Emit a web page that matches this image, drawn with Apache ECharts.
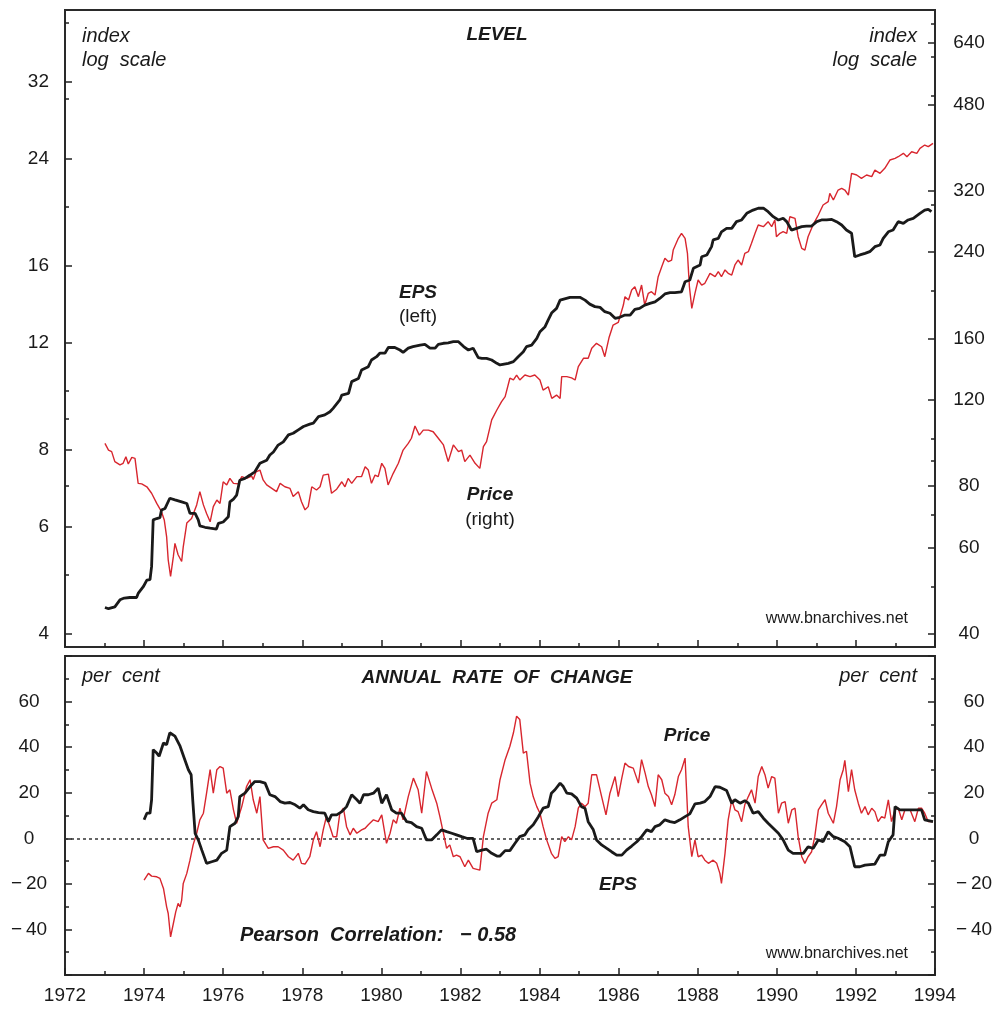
<!DOCTYPE html>
<html><head><meta charset="utf-8">
<script src="https://cdn.jsdelivr.net/npm/echarts@6/dist/echarts.min.js"></script>
<style>html,body{margin:0;padding:0;background:#fff}#c{width:997px;height:1013px}</style>
</head><body><div id="c"></div>
<script>
// ---------- LEVEL panel ----------
const epsLevelYears = [1973.01,1973.10,1973.26,1973.39,1973.50,1973.64,1973.81,1973.85,1973.98,1974.07,1974.15,1974.19,1974.23,1974.32,1974.40,1974.44,1974.53,1974.65,1974.78,1974.95,1975.08,1975.16,1975.29,1975.37,1975.41,1975.54,1975.67,1975.83,1975.88,1976.00,1976.13,1976.17,1976.26,1976.34,1976.42,1976.55,1976.68,1976.80,1976.93,1977.10,1977.18,1977.27,1977.39,1977.52,1977.65,1977.77,1977.90,1978.03,1978.19,1978.28,1978.41,1978.57,1978.70,1978.78,1978.95,1979.00,1979.17,1979.25,1979.42,1979.50,1979.67,1979.75,1979.88,1979.96,1980.09,1980.18,1980.34,1980.47,1980.55,1980.68,1980.80,1980.98,1981.10,1981.23,1981.36,1981.44,1981.57,1981.69,1981.82,1981.95,1982.08,1982.20,1982.32,1982.45,1982.54,1982.66,1982.79,1982.92,1983.00,1983.21,1983.34,1983.46,1983.59,1983.67,1983.80,1983.93,1984.01,1984.14,1984.22,1984.31,1984.43,1984.52,1984.77,1985.02,1985.15,1985.27,1985.40,1985.53,1985.65,1985.78,1985.91,1986.03,1986.16,1986.29,1986.41,1986.53,1986.66,1986.79,1986.92,1987.04,1987.17,1987.30,1987.42,1987.59,1987.68,1987.80,1987.89,1988.06,1988.10,1988.23,1988.35,1988.39,1988.52,1988.60,1988.73,1988.86,1988.98,1989.11,1989.24,1989.40,1989.53,1989.66,1989.78,1989.91,1990.04,1990.16,1990.25,1990.37,1990.50,1990.63,1990.75,1990.88,1991.01,1991.13,1991.26,1991.39,1991.51,1991.64,1991.76,1991.89,1991.97,1992.10,1992.23,1992.35,1992.48,1992.61,1992.69,1992.82,1992.94,1993.07,1993.20,1993.32,1993.45,1993.62,1993.74,1993.83,1993.91];
const epsLevelValues = [4.42,4.40,4.43,4.55,4.58,4.59,4.59,4.66,4.78,4.90,4.91,5.16,6.15,6.18,6.20,6.38,6.42,6.67,6.63,6.58,6.54,6.30,6.30,6.15,6.01,5.98,5.96,5.94,6.07,6.10,6.22,6.58,6.65,6.75,7.14,7.19,7.28,7.37,7.61,7.70,7.85,7.94,8.15,8.25,8.47,8.52,8.63,8.74,8.82,8.85,9.07,9.13,9.24,9.36,9.66,9.84,9.90,10.35,10.47,10.81,10.95,11.23,11.37,11.52,11.52,11.78,11.77,11.66,11.56,11.74,11.81,11.88,11.91,11.74,11.74,11.91,11.96,11.98,12.03,12.03,11.81,11.66,11.74,11.33,11.30,11.30,11.23,11.09,11.02,11.09,11.16,11.37,11.58,11.81,11.88,12.18,12.49,12.73,13.06,13.42,13.64,14.07,14.22,14.22,14.07,13.86,13.73,13.69,13.47,13.39,13.14,13.19,13.30,13.30,13.59,13.64,13.81,13.90,13.98,14.16,14.40,14.47,14.47,14.52,15.08,15.18,15.86,16.06,16.57,16.68,17.21,17.65,17.75,18.20,18.44,18.44,18.91,19.03,19.51,19.75,19.89,19.89,19.63,19.27,19.03,19.15,18.91,18.32,18.44,18.56,18.60,18.60,18.91,19.03,19.03,19.07,18.91,18.67,18.32,18.10,16.57,16.68,16.78,16.89,17.21,17.32,17.75,18.20,18.32,18.91,18.79,19.03,19.15,19.51,19.75,19.81,19.63];

const priceLevelYears = [1973.01,1973.10,1973.18,1973.26,1973.39,1973.47,1973.54,1973.60,1973.69,1973.77,1973.85,1973.94,1974.07,1974.19,1974.32,1974.44,1974.51,1974.57,1974.61,1974.67,1974.74,1974.78,1974.86,1974.95,1974.99,1975.08,1975.20,1975.33,1975.41,1975.50,1975.58,1975.67,1975.75,1975.84,1975.92,1976.00,1976.09,1976.17,1976.26,1976.38,1976.47,1976.59,1976.72,1976.76,1976.83,1976.93,1977.01,1977.10,1977.23,1977.35,1977.44,1977.56,1977.69,1977.77,1977.90,1977.98,1978.07,1978.15,1978.24,1978.36,1978.45,1978.53,1978.66,1978.74,1978.87,1979.00,1979.08,1979.16,1979.25,1979.38,1979.50,1979.59,1979.67,1979.75,1979.84,1979.92,1980.01,1980.09,1980.17,1980.30,1980.43,1980.55,1980.68,1980.76,1980.85,1980.96,1981.06,1981.19,1981.31,1981.44,1981.57,1981.69,1981.82,1981.95,1982.03,1982.11,1982.24,1982.37,1982.49,1982.58,1982.66,1982.79,1982.92,1983.04,1983.13,1983.25,1983.34,1983.42,1983.50,1983.63,1983.76,1983.88,1984.01,1984.09,1984.22,1984.31,1984.43,1984.52,1984.56,1984.69,1984.81,1984.90,1984.98,1985.11,1985.23,1985.32,1985.44,1985.57,1985.65,1985.76,1985.86,1985.99,1986.12,1986.16,1986.25,1986.33,1986.41,1986.50,1986.58,1986.66,1986.75,1986.83,1986.92,1987.00,1987.09,1987.17,1987.26,1987.34,1987.38,1987.51,1987.59,1987.68,1987.74,1987.79,1987.85,1987.93,1988.01,1988.10,1988.18,1988.31,1988.44,1988.52,1988.60,1988.69,1988.77,1988.86,1988.94,1989.02,1989.11,1989.19,1989.28,1989.36,1989.45,1989.53,1989.66,1989.78,1989.87,1989.95,1989.99,1990.08,1990.16,1990.25,1990.33,1990.46,1990.54,1990.63,1990.71,1990.79,1990.88,1990.96,1991.05,1991.17,1991.30,1991.34,1991.43,1991.55,1991.64,1991.72,1991.81,1991.89,1992.02,1992.14,1992.27,1992.40,1992.48,1992.61,1992.73,1992.86,1992.99,1993.07,1993.20,1993.29,1993.41,1993.54,1993.62,1993.74,1993.83,1993.95];
const priceLevelValues = [97.8,94.8,94.1,89.8,88.4,89.1,91.9,88.8,91.6,91.2,81.1,80.9,79.8,77.4,73.8,71.0,68.3,63.1,56.6,52.4,57.5,61.2,58.0,56.2,60.2,67.3,68.8,73.3,78.0,73.3,70.4,67.7,72.7,75.0,73.8,81.7,80.5,83.0,81.1,80.9,83.7,83.0,83.9,82.6,85.6,86.3,82.4,80.5,79.2,78.0,81.1,79.8,79.2,76.2,78.0,74.4,71.6,72.7,79.8,78.6,79.8,84.3,84.7,77.4,78.9,81.7,79.8,83.0,81.1,83.7,83.7,87.7,86.3,81.1,84.3,83.7,89.1,87.0,80.5,85.0,89.1,94.8,97.8,100.2,106.1,101.7,104.1,104.1,103.3,100.2,97.1,89.8,97.1,94.1,94.8,89.8,92.6,89.1,87.0,96.3,98.6,109.2,114.4,119.0,121.8,132.8,131.7,134.8,131.7,134.8,133.8,134.8,131.7,125.6,127.6,120.8,122.7,120.8,133.8,133.8,133.0,131.7,140.2,145.8,145.8,152.8,156.4,153.9,146.9,161.0,170.4,172.5,187.2,194.7,191.6,200.9,204.0,194.7,205.6,187.2,197.8,199.3,196.2,213.8,224.1,233.1,229.4,231.2,242.3,256.0,262.1,256.0,238.6,204.0,184.3,197.8,210.5,205.6,207.3,217.2,213.8,218.9,213.8,220.7,217.2,215.5,225.9,231.2,225.9,238.6,240.4,250.1,262.1,272.5,270.4,276.8,270.4,279.0,257.9,262.1,264.1,262.1,283.3,281.1,257.9,244.2,242.3,257.9,268.3,276.8,285.6,299.3,304.0,316.2,306.4,321.1,323.7,321.1,313.6,347.3,344.6,339.2,344.6,341.9,352.6,347.3,355.5,369.6,372.6,375.4,381.4,375.4,384.3,381.4,390.5,396.6,393.5,399.7];

// ---------- ANNUAL RATE OF CHANGE panel ----------
const epsRocYears = [1974.00,1974.07,1974.15,1974.19,1974.23,1974.32,1974.38,1974.49,1974.57,1974.65,1974.78,1974.91,1975.03,1975.12,1975.19,1975.23,1975.29,1975.37,1975.46,1975.58,1975.71,1975.84,1975.96,1976.09,1976.17,1976.30,1976.38,1976.42,1976.55,1976.68,1976.80,1976.93,1977.06,1977.18,1977.31,1977.44,1977.56,1977.69,1977.82,1977.94,1978.03,1978.15,1978.28,1978.41,1978.57,1978.66,1978.74,1978.87,1979.00,1979.12,1979.25,1979.38,1979.46,1979.55,1979.67,1979.80,1979.92,1980.01,1980.13,1980.26,1980.38,1980.51,1980.64,1980.76,1980.89,1981.02,1981.14,1981.27,1981.40,1981.52,1981.65,1981.78,1981.90,1982.03,1982.16,1982.32,1982.41,1982.54,1982.66,1982.79,1982.92,1983.00,1983.13,1983.25,1983.38,1983.50,1983.63,1983.71,1983.84,1983.97,1984.09,1984.22,1984.30,1984.39,1984.52,1984.60,1984.69,1984.81,1984.94,1985.06,1985.15,1985.23,1985.36,1985.44,1985.57,1985.70,1985.82,1985.95,1986.08,1986.20,1986.33,1986.46,1986.58,1986.71,1986.83,1986.92,1987.04,1987.17,1987.30,1987.42,1987.55,1987.68,1987.80,1987.93,1988.06,1988.18,1988.31,1988.44,1988.56,1988.73,1988.86,1988.94,1989.07,1989.19,1989.28,1989.40,1989.53,1989.66,1989.78,1989.91,1990.04,1990.16,1990.29,1990.41,1990.67,1990.79,1990.92,1991.05,1991.17,1991.30,1991.43,1991.55,1991.72,1991.85,1991.97,1992.10,1992.23,1992.48,1992.61,1992.73,1992.82,1992.94,1992.99,1993.11,1993.66,1993.74,1993.95];
const epsRocValues = [8.1,11.0,11.0,16.9,38.9,37.4,36.0,41.8,41.1,46.3,44.8,40.4,34.5,30.1,27.9,16.9,2.2,-0.7,-5.2,-11.0,-10.3,-9.6,-6.6,-5.2,5.1,6.6,9.5,18.3,19.8,22.7,24.9,24.9,24.2,19.1,18.3,16.1,15.4,15.7,14.7,13.2,14.7,12.5,11.7,11.3,11.0,7.3,10.3,10.3,11.7,13.9,19.1,16.9,15.4,19.1,19.1,19.8,22.0,15.4,19.1,12.5,11.0,11.0,7.3,6.9,5.1,4.4,-0.7,-0.7,1.5,3.7,2.9,2.2,1.5,0.7,0.0,0.0,-5.9,-5.2,-4.8,-6.6,-7.8,-7.8,-5.4,-5.4,-2.2,0.7,1.5,3.7,5.9,9.5,13.2,13.9,19.8,21.3,24.2,22.7,19.8,19.5,17.6,13.9,13.2,7.3,3.7,-0.7,-2.9,-4.4,-5.9,-7.4,-7.4,-5.2,-3.4,-1.5,0.7,3.7,2.9,5.1,5.9,8.1,7.3,6.9,8.1,9.5,10.7,15.1,15.4,16.1,18.3,22.7,22.4,21.0,15.4,16.9,15.4,16.5,15.4,11.0,11.7,8.8,6.6,4.4,2.2,-0.7,-5.2,-6.6,-6.6,-3.7,-4.4,-0.7,-1.5,2.9,0.7,0.0,-1.5,-3.7,-12.5,-12.5,-11.8,-11.3,-7.4,-7.4,-1.5,1.5,13.9,12.5,12.5,8.1,7.3];

const priceRocYears = [1974.00,1974.11,1974.19,1974.32,1974.40,1974.49,1974.57,1974.61,1974.67,1974.74,1974.80,1974.86,1974.91,1974.95,1974.99,1975.08,1975.16,1975.24,1975.33,1975.41,1975.50,1975.58,1975.67,1975.75,1975.84,1975.92,1976.00,1976.09,1976.17,1976.26,1976.34,1976.47,1976.59,1976.68,1976.76,1976.85,1976.93,1977.01,1977.14,1977.27,1977.39,1977.52,1977.65,1977.77,1977.90,1977.98,1978.07,1978.19,1978.28,1978.36,1978.45,1978.53,1978.61,1978.70,1978.78,1978.87,1978.95,1979.04,1979.12,1979.21,1979.29,1979.38,1979.50,1979.59,1979.67,1979.80,1979.92,1980.01,1980.13,1980.22,1980.30,1980.38,1980.47,1980.55,1980.68,1980.81,1980.93,1981.02,1981.14,1981.27,1981.40,1981.48,1981.57,1981.65,1981.73,1981.82,1981.90,1981.99,1982.11,1982.20,1982.32,1982.49,1982.58,1982.70,1982.79,1982.92,1983.00,1983.13,1983.25,1983.34,1983.42,1983.50,1983.59,1983.67,1983.76,1983.84,1983.93,1984.01,1984.09,1984.18,1984.30,1984.39,1984.47,1984.56,1984.64,1984.73,1984.81,1984.90,1984.98,1985.06,1985.15,1985.23,1985.32,1985.44,1985.57,1985.68,1985.78,1985.91,1985.99,1986.08,1986.16,1986.25,1986.37,1986.50,1986.58,1986.67,1986.75,1986.83,1986.92,1987.00,1987.09,1987.17,1987.26,1987.34,1987.42,1987.51,1987.59,1987.68,1987.76,1987.85,1987.93,1988.01,1988.10,1988.18,1988.27,1988.39,1988.48,1988.56,1988.60,1988.69,1988.77,1988.86,1988.94,1989.02,1989.11,1989.19,1989.28,1989.36,1989.45,1989.53,1989.62,1989.70,1989.78,1989.87,1989.95,1990.04,1990.12,1990.21,1990.29,1990.38,1990.46,1990.54,1990.63,1990.71,1990.79,1990.88,1990.96,1991.05,1991.13,1991.22,1991.30,1991.43,1991.51,1991.60,1991.68,1991.72,1991.81,1991.89,1991.97,1992.06,1992.14,1992.23,1992.31,1992.40,1992.48,1992.56,1992.65,1992.73,1992.82,1992.90,1992.99,1993.07,1993.16,1993.24,1993.37,1993.49,1993.58,1993.66,1993.74,1993.83,1993.95];
const priceRocValues = [-18.4,-15.4,-16.6,-16.9,-17.6,-22.0,-30.1,-33.0,-43.3,-37.4,-32.3,-28.6,-30.1,-27.2,-19.8,-15.4,-9.6,-2.9,2.2,8.1,11.0,19.8,30.1,19.8,30.1,31.5,30.8,19.8,21.3,12.5,6.6,13.9,22.7,25.7,16.9,11.0,18.3,-0.7,-4.4,-3.7,-3.7,-5.2,-8.1,-9.6,-6.6,-11.0,-11.3,-8.1,-0.7,2.9,-3.7,3.7,9.5,5.1,0.7,0.7,11.0,13.2,5.1,1.5,4.4,2.2,3.7,4.4,5.9,8.1,7.3,10.3,-2.2,2.2,8.1,6.6,13.2,8.1,18.3,26.4,21.3,11.0,29.3,22.0,15.4,9.5,2.2,-4.4,-2.9,-8.1,-7.4,-8.1,-12.5,-9.6,-13.2,-14.0,0.7,11.0,15.4,16.9,25.7,34.5,40.4,46.3,53.6,52.1,37.4,38.2,24.2,18.3,13.9,11.0,5.1,-0.7,-6.6,-8.8,-8.1,0.7,-1.5,0.7,-0.7,5.1,13.2,15.4,13.9,15.4,27.9,27.9,18.3,10.3,19.8,27.1,18.3,26.4,33.0,31.5,30.8,24.2,34.5,28.6,22.7,19.1,13.9,27.9,25.7,19.8,18.3,14.7,19.1,27.1,30.1,35.2,5.1,-8.1,-0.7,-8.1,-7.4,-9.6,-11.0,-9.6,-11.0,-15.4,-19.8,-6.6,8.1,16.9,12.5,11.7,7.3,14.7,18.3,21.3,15.4,27.1,31.5,27.9,22.0,27.1,26.4,11.0,15.4,16.1,6.6,12.5,13.2,0.7,-8.1,-11.0,-8.1,-5.9,0.7,12.5,14.7,16.9,11.0,6.6,13.9,25.7,30.1,34.2,20.5,30.1,21.3,15.4,11.0,13.9,10.3,13.2,11.7,7.3,9.5,8.8,16.9,7.3,12.5,13.2,8.1,12.5,12.5,7.3,13.2,13.2,11.0,7.3,7.3];

const yearTicksMin = 1972, yearTicksMax = 1994;
const leftLevelLabels = [4, 6, 8, 12, 16, 24, 32];
const leftLevelMinor = [5, 7, 9, 10, 20, 30, 40];
const rightLevelLabels = [40, 60, 80, 120, 160, 240, 320, 480, 640];
const rightLevelMinor = [50, 70, 90, 100, 200, 300, 500, 600, 700];

function pairs(xs, ys) { return xs.map((x, i) => [x, ys[i]]); }

const FONT = "'Liberation Sans', Arial, Helvetica, sans-serif";
const INK = '#1a1a1a';
const RED = '#d8262e';
const tickStyle = { color: '#222', width: 1.5 };

function xAxisCfg(grid, showLabel) {
  return {
    gridIndex: grid, type: 'value', min: yearTicksMin, max: yearTicksMax, interval: 2,
    position: 'bottom',
    axisLine: { show: false, onZero: false },
    axisTick: { show: true, inside: true, length: 7, lineStyle: tickStyle },
    minorTick: { show: true, splitNumber: 2, length: 4, lineStyle: tickStyle },
    splitLine: { show: false }, minorSplitLine: { show: false },
    axisLabel: { show: showLabel, fontSize: 19, color: INK, fontFamily: FONT, margin: 11, formatter: (v) => String(v) }
  };
}
function logAxis(pos, min, max, labels, minor, margin) {
  return {
    gridIndex: 0, type: 'log', logBase: 2, position: pos, min: min, max: max,
    axisLine: { show: false, onZero: false }, splitLine: { show: false },
    axisTick: { show: true, inside: true, length: minor ? 4 : 7, lineStyle: tickStyle, customValues: minor || labels },
    axisLabel: minor ? { show: false } : { show: true, customValues: labels, fontSize: 19, color: INK, fontFamily: FONT, margin: margin, align: pos === 'left' ? 'right' : 'center' }
  };
}
function rocFmt(v) {
  if (v <= -60 || v >= 80) return '';
  return v < 0 ? '\u2212\u2009' + Math.abs(v) : String(v);
}
function rocAxis(pos, margin) {
  return {
    gridIndex: 1, type: 'value', position: pos, min: -60, max: 80, interval: 20,
    axisLine: { show: false, onZero: false }, splitLine: { show: false },
    axisTick: { show: true, inside: true, length: 7, lineStyle: tickStyle },
    minorTick: { show: true, splitNumber: 2, length: 4, lineStyle: tickStyle },
    axisLabel: { show: true, formatter: rocFmt, fontSize: 19, color: INK, fontFamily: FONT, margin: margin, align: 'center' }
  };
}
function txt(text, x, y, font, align) {
  return { type: 'text', silent: true, z: 100, style: { text: text, x: x, y: y, font: font + ' ' + FONT, fill: INK, textAlign: align || 'center', textVerticalAlign: 'middle' } };
}

const chart = echarts.init(document.getElementById('c'), null, { renderer: 'canvas' });
chart.setOption({
  animation: false,
  backgroundColor: '#fff',
  grid: [
    { left: 65, top: 10, width: 870, height: 637, show: true, borderColor: '#2a2a2a', borderWidth: 2, backgroundColor: 'transparent', containLabel: false, outerBoundsMode: 'none' },
    { left: 65, top: 656, width: 870, height: 319, show: true, borderColor: '#2a2a2a', borderWidth: 2, backgroundColor: 'transparent', containLabel: false, outerBoundsMode: 'none' }
  ],
  xAxis: [xAxisCfg(0, false), xAxisCfg(1, true)],
  yAxis: [
    logAxis('left', 3.809, 41.97, leftLevelLabels, null, 16),
    logAxis('left', 3.809, 41.97, null, leftLevelMinor, 0),
    logAxis('right', 37.63, 747.2, rightLevelLabels, null, 34),
    logAxis('right', 37.63, 747.2, null, rightLevelMinor, 0),
    rocAxis('left', 36),
    rocAxis('right', 39)
  ],
  series: [
    { type: 'line', name: 'Price level', xAxisIndex: 0, yAxisIndex: 2, data: pairs(priceLevelYears, priceLevelValues), symbol: 'none', lineStyle: { color: RED, width: 1.4 }, z: 2 },
    { type: 'line', name: 'EPS level', xAxisIndex: 0, yAxisIndex: 0, data: pairs(epsLevelYears, epsLevelValues), symbol: 'none', lineStyle: { color: INK, width: 2.8 }, z: 3 },
    { type: 'line', name: 'Price ROC', xAxisIndex: 1, yAxisIndex: 4, data: pairs(priceRocYears, priceRocValues), symbol: 'none', lineStyle: { color: RED, width: 1.4 }, z: 2,
      markLine: { silent: true, symbol: 'none', label: { show: false }, lineStyle: { color: '#333', width: 1.5, type: [3, 3] }, data: [{ yAxis: 0 }], z: 1 } },
    { type: 'line', name: 'EPS ROC', xAxisIndex: 1, yAxisIndex: 4, data: pairs(epsRocYears, epsRocValues), symbol: 'none', lineStyle: { color: INK, width: 2.8 }, z: 3 }
  ],
  graphic: [
    txt('index', 82, 36, 'italic 20px', 'left'),
    txt('log  scale', 82, 60, 'italic 20px', 'left'),
    txt('index', 917, 36, 'italic 20px', 'right'),
    txt('log  scale', 917, 60, 'italic 20px', 'right'),
    txt('LEVEL', 497, 35, 'italic bold 19px'),
    txt('EPS', 418, 293, 'italic bold 19px'),
    txt('(left)', 418, 317, '19px'),
    txt('Price', 490, 495, 'italic bold 19px'),
    txt('(right)', 490, 520, '19px'),
    txt('www.bnarchives.net', 908, 619, '16px', 'right'),
    txt('per  cent', 82, 676, 'italic 20px', 'left'),
    txt('per  cent', 917, 676, 'italic 20px', 'right'),
    txt('ANNUAL  RATE  OF  CHANGE', 497, 678, 'italic bold 19px'),
    txt('Price', 687, 736, 'italic bold 19px'),
    txt('EPS', 618, 885, 'italic bold 19px'),
    txt('Pearson  Correlation:   \u2212 0.58', 240, 935, 'italic bold 20px', 'left'),
    txt('www.bnarchives.net', 908, 954, '16px', 'right')
  ]
});
</script></body></html>
